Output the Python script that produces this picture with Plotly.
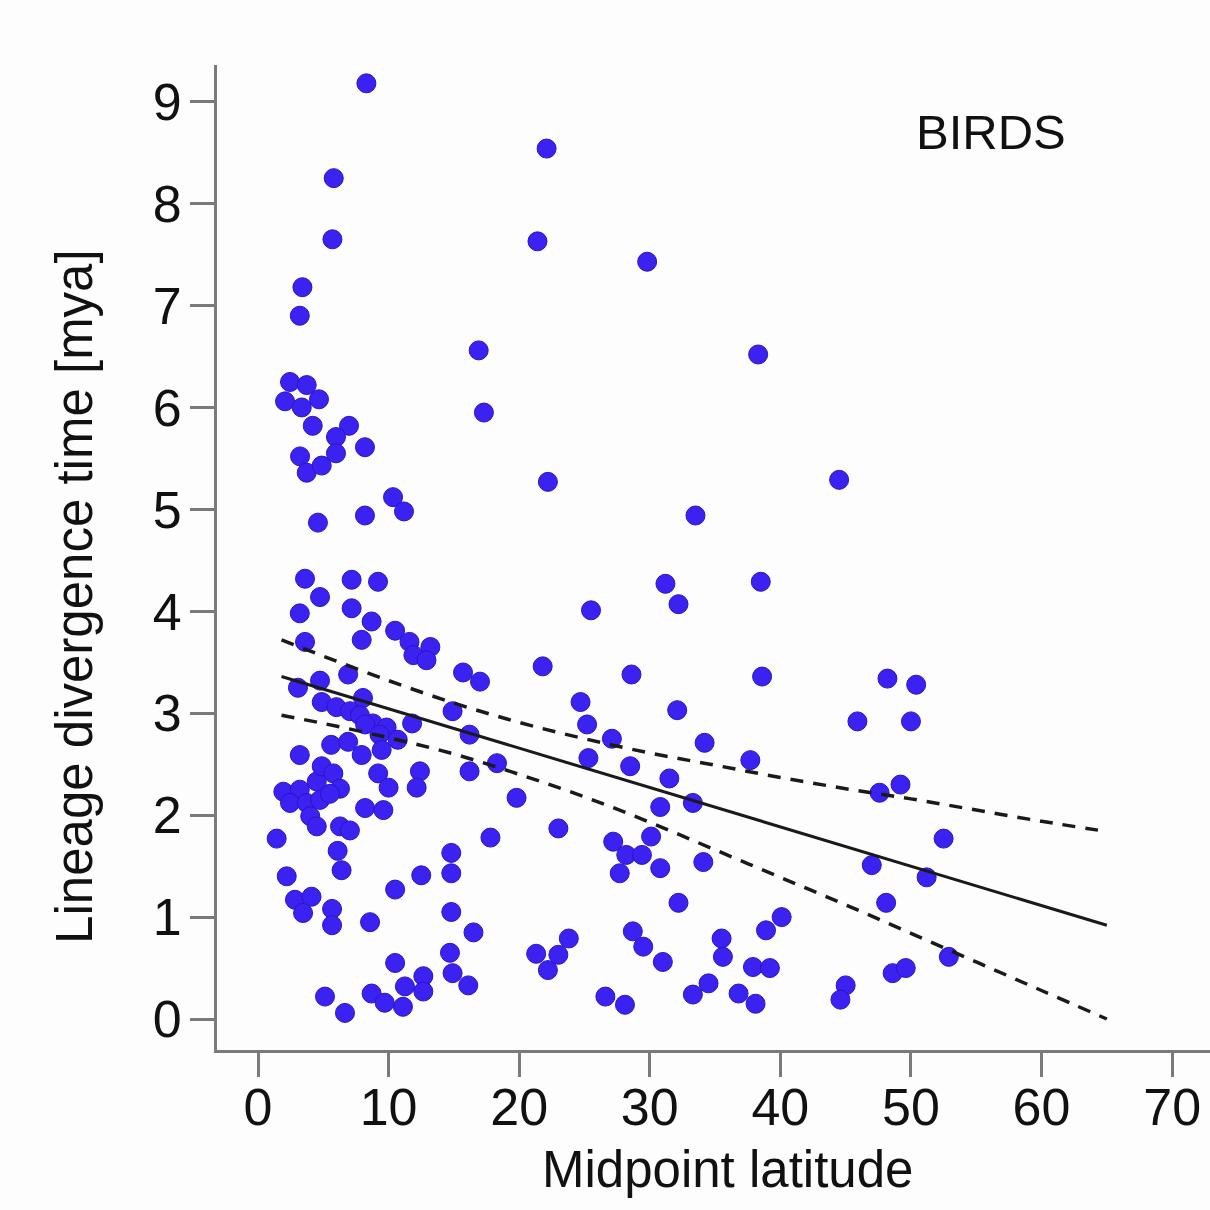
import plotly.graph_objects as go

# Scatter data: midpoint latitude (x) vs lineage divergence time (y)
lat = [
    8.3, 22.1, 5.8, 5.7, 21.4, 29.8, 3.4, 3.2, 16.9, 38.3, 17.3,
    2.45, 3.73, 2.07, 3.35, 4.67, 4.19, 6.97, 5.97, 5.97, 8.19, 3.22, 3.73, 4.88,
    10.34, 11.18, 8.19, 4.59, 3.6, 7.17, 9.19, 4.75,
    22.2, 44.5, 33.5, 25.5, 31.2, 32.2, 38.5,
    3.2, 7.17, 8.7, 7.94, 10.5, 11.6, 13.2, 11.9, 12.9, 3.6, 15.7, 17.0, 6.9, 4.75,
    3.06, 8.04, 4.88, 6.0, 7.04, 7.8, 8.8, 9.85, 8.2, 9.3, 11.8, 14.9, 16.2, 5.6,
    6.9, 7.94, 9.47, 10.7, 3.2, 16.2, 18.3, 9.2, 10.0, 12.4, 12.15,
    1.94, 3.2, 4.5, 4.88, 5.77, 6.28, 2.45, 3.73, 4.75, 5.5, 4.0, 4.5, 6.28, 7.04,
    8.2, 9.6, 1.43, 17.8,
    6.1, 6.4, 2.2, 2.83, 4.1, 3.45, 5.67, 5.67, 8.58, 10.5, 12.5, 14.8, 14.8, 14.8,
    14.7, 14.9, 16.1, 16.5, 10.5, 5.13, 6.66, 8.7, 9.7, 11.25, 11.1, 12.66, 12.66,
    21.8, 28.6, 38.6, 24.7, 32.1, 25.2, 27.1, 34.2, 25.3, 28.5, 37.7, 31.5, 19.8,
    30.8, 33.3, 23.0, 27.2, 30.1, 28.2, 29.4, 27.7, 30.8, 34.1, 32.2, 23.8, 23.0,
    21.3, 22.2, 28.7, 29.5, 31.0, 26.6, 28.1, 35.5, 35.6, 33.3, 34.5, 36.8, 38.1,
    37.9, 39.2, 38.9, 40.1,
    48.2, 50.4, 45.9, 50.0, 47.6, 49.2, 52.5, 47.0, 51.2, 48.1, 52.9, 48.6, 49.6,
    45.0, 44.6,
]
div_time = [
    9.18, 8.54, 8.25, 7.65, 7.63, 7.43, 7.18, 6.90, 6.56, 6.52, 5.95,
    6.25, 6.22, 6.06, 6.00, 6.08, 5.82, 5.82, 5.71, 5.55, 5.61, 5.52, 5.36, 5.43,
    5.12, 4.98, 4.94, 4.87, 4.32, 4.31, 4.29, 4.14,
    5.27, 5.29, 4.94, 4.01, 4.27, 4.07, 4.29,
    3.98, 4.03, 3.90, 3.72, 3.81, 3.70, 3.65, 3.57, 3.52, 3.70, 3.40, 3.31, 3.38, 3.32,
    3.25, 3.15, 3.11, 3.06, 3.02, 2.98, 2.90, 2.86, 2.89, 2.79, 2.90, 3.02, 2.79, 2.69,
    2.72, 2.59, 2.64, 2.74, 2.59, 2.43, 2.51, 2.41, 2.27, 2.43, 2.27,
    2.23, 2.25, 2.33, 2.48, 2.41, 2.26, 2.12, 2.12, 2.15, 2.21, 1.99, 1.89, 1.89, 1.85,
    2.07, 2.05, 1.77, 1.78,
    1.65, 1.46, 1.40, 1.17, 1.20, 1.04, 1.08, 0.92, 0.95, 1.27, 1.41, 1.63, 1.43, 1.05,
    0.65, 0.45, 0.33, 0.85, 0.55, 0.22, 0.06, 0.25, 0.16, 0.32, 0.12, 0.42, 0.27,
    3.46, 3.38, 3.36, 3.11, 3.03, 2.89, 2.75, 2.71, 2.56, 2.48, 2.54, 2.36, 2.17,
    2.08, 2.12, 1.87, 1.74, 1.79, 1.61, 1.61, 1.43, 1.48, 1.54, 1.14, 0.79, 0.63,
    0.64, 0.48, 0.86, 0.71, 0.56, 0.22, 0.14, 0.79, 0.61, 0.24, 0.35, 0.25, 0.15,
    0.51, 0.50, 0.87, 1.00,
    3.34, 3.28, 2.92, 2.92, 2.22, 2.30, 1.77, 1.51, 1.39, 1.14, 0.61, 0.45, 0.50,
    0.33, 0.19,
]

# Regression line endpoints
fit_x = [1.8, 65.0]
fit_y = [3.36, 0.92]

# Confidence band (dashed), read at sampled latitudes
ci_x = [1.8, 5, 10, 15, 20, 25, 30, 35, 40, 45, 50, 55, 60, 65]
ci_upper = [3.72, 3.56, 3.32, 3.10, 2.91, 2.75, 2.61, 2.49, 2.37, 2.26, 2.16, 2.05, 1.94, 1.84]
ci_lower = [2.98, 2.90, 2.76, 2.60, 2.40, 2.18, 1.93, 1.66, 1.39, 1.12, 0.84, 0.56, 0.28, 0.00]

x_ticks = [0, 10, 20, 30, 40, 50, 60, 70]
y_ticks = [0, 1, 2, 3, 4, 5, 6, 7, 8, 9]

FONT = "Liberation Sans, Arial, sans-serif"
AXIS_COLOR = "#7a7a7a"

fig = go.Figure()
fig.add_trace(go.Scatter(
    x=lat, y=div_time, mode="markers",
    marker=dict(size=19, color="#3b22f0", line=dict(color="#2a14c8", width=1)),
    showlegend=False, hoverinfo="skip",
))
fig.add_trace(go.Scatter(
    x=fit_x, y=fit_y, mode="lines",
    line=dict(color="#1a1a1a", width=3), showlegend=False, hoverinfo="skip",
))
for band in (ci_upper, ci_lower):
    fig.add_trace(go.Scatter(
        x=ci_x, y=band, mode="lines", line_shape="spline",
        line=dict(color="#1a1a1a", width=3.5, dash="13px,10px"),
        showlegend=False, hoverinfo="skip",
    ))

fig.update_layout(
    width=1210, height=1210,
    margin=dict(l=217, r=0, t=65, b=160),
    paper_bgcolor="#fdfdfd", plot_bgcolor="#fdfdfd",
    font=dict(family=FONT, color="#111111"),
    xaxis=dict(
        range=[-3.14, 72.9], tickvals=x_ticks, ticktext=[str(v) for v in x_ticks],
        showgrid=False, zeroline=False, showline=True, linecolor=AXIS_COLOR, linewidth=3,
        ticks="outside", ticklen=24, tickwidth=3, tickcolor=AXIS_COLOR,
        tickfont=dict(size=52, family=FONT, color="#111111"),
        ticklabelstandoff=-14,
    ),
    yaxis=dict(
        range=[-0.304, 9.36], tickvals=y_ticks, ticktext=[str(v) for v in y_ticks],
        showgrid=False, zeroline=False, showline=True, linecolor=AXIS_COLOR, linewidth=3,
        ticks="outside", ticklen=24, tickwidth=3, tickcolor=AXIS_COLOR,
        tickfont=dict(size=52, family=FONT, color="#111111"),
        ticklabelstandoff=-2,
    ),
    annotations=[
        dict(text="Lineage divergence time [mya]", xref="paper", yref="paper",
             x=-0.143, y=0.46, xanchor="center", yanchor="middle", textangle=-90,
             showarrow=False, font=dict(size=51, family=FONT, color="#111111")),
        dict(text="Midpoint latitude", xref="paper", yref="paper",
             x=0.5136, y=-0.1218, xanchor="center", yanchor="middle",
             showarrow=False, font=dict(size=51, family=FONT, color="#111111")),
        dict(text="BIRDS", xref="paper", yref="paper",
             x=0.7795, y=0.932, xanchor="center", yanchor="middle",
             showarrow=False, font=dict(size=49, family=FONT, color="#111111")),
    ],
)

fig.write_html("out.html")
